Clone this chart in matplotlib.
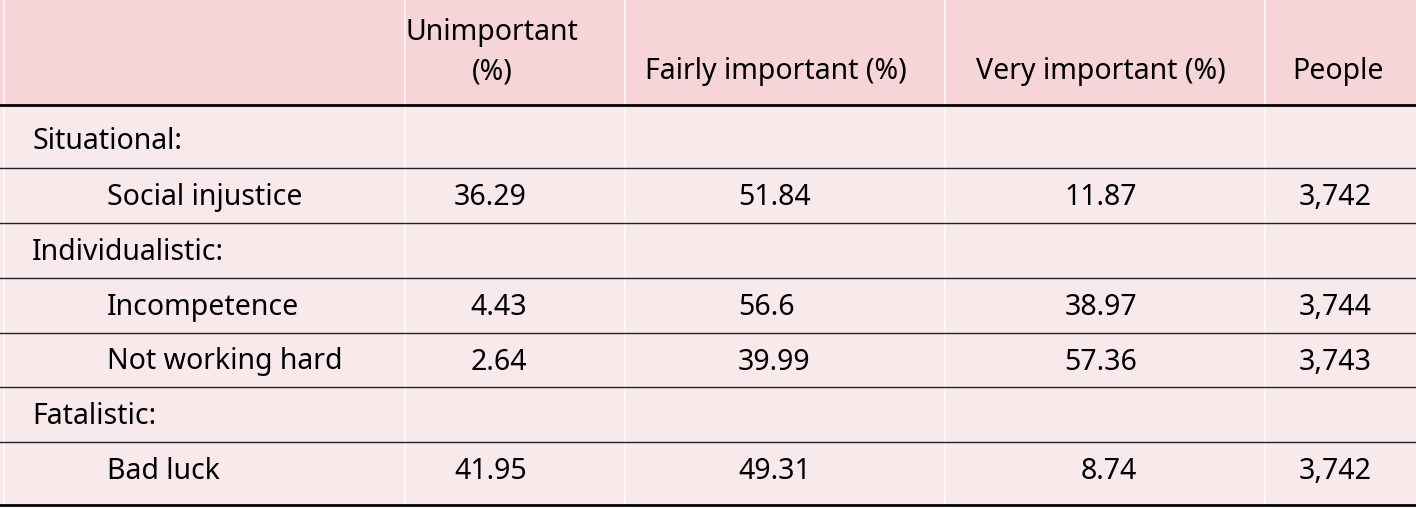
import matplotlib.pyplot as plt

headers = ["Unimportant\n(%)", "Fairly important (%)", "Very important (%)", "People"]
row_labels = ["Situational:", "Social injustice", "Individualistic:", "Incompetence",
              "Not working hard", "Fatalistic:", "Bad luck"]
is_group = [True, False, True, False, False, True, False]
unimportant = ["", "36.29", "", "4.43", "2.64", "", "41.95"]
fairly = ["", "51.84", "", "56.6", "39.99", "", "49.31"]
very = ["", "11.87", "", "38.97", "57.36", "", "8.74"]
people = ["", "3,742", "", "3,744", "3,743", "", "3,742"]

W, H = 1416, 509
fig = plt.figure(figsize=(W / 100, H / 100), dpi=100)
ax = fig.add_axes([0, 0, 1, 1])
ax.set_xlim(0, W)
ax.set_ylim(H, 0)
ax.axis("off")
plt.rcParams["font.family"] = ["Noto Sans", "DejaVu Sans"]
fs = 20.5

head_bot = 105
bottom = 505
ax.add_patch(plt.Rectangle((0, 0), W, head_bot, color="#f6d5d8", lw=0))
ax.add_patch(plt.Rectangle((0, head_bot), W, bottom - head_bot, color="#f8eaea", lw=0))
for x in [4, 405, 625, 945, 1265]:
    ax.plot([x, x], [0, bottom], color="white", lw=1.2, alpha=0.8)
ax.plot([0, W], [head_bot, head_bot], color="black", lw=2)
ax.plot([0, W], [bottom, bottom], color="black", lw=2)

hx = [492, 776, 1101, 1338]
ax.text(hx[0], 52, headers[0], ha="center", va="center", fontsize=fs, linespacing=1.5)
for x, h in zip(hx[1:], headers[1:]):
    ax.text(x, 71, h, ha="center", va="center", fontsize=fs)

tops = [head_bot, 168, 223, 278, 333, 387, 442, 497]
for i, lab in enumerate(row_labels):
    y0 = tops[i]
    y1 = tops[i + 1]
    if i > 0:
        ax.plot([0, W], [y0, y0], color="#222", lw=1)
    yc = (y0 + y1) / 2 + (5 if i == 0 else 2)
    ax.text(32 if is_group[i] else 107, yc, lab, ha="left", va="center", fontsize=fs)
    ax.text(527, yc, unimportant[i], ha="right", va="center", fontsize=fs)
    ax.text(738, yc, fairly[i], ha="left", va="center", fontsize=fs)
    ax.text(1137, yc, very[i], ha="right", va="center", fontsize=fs)
    ax.text(1372, yc, people[i], ha="right", va="center", fontsize=fs)

fig.savefig("out.png", dpi=100)
